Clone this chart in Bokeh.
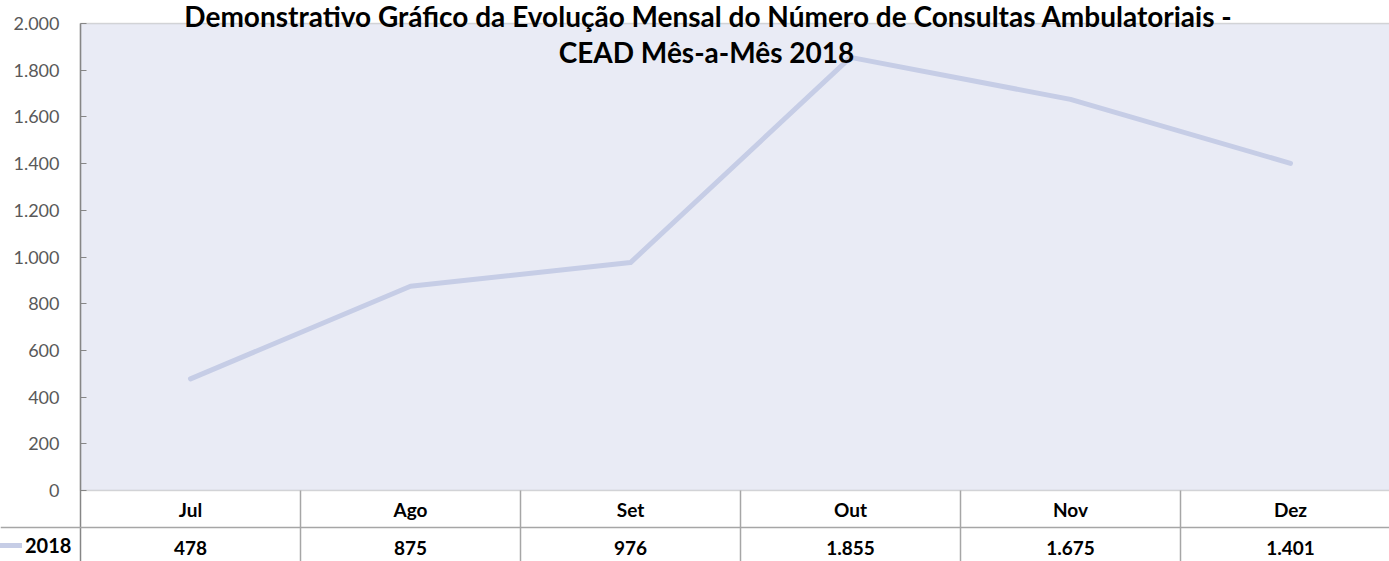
from bokeh.plotting import figure
from bokeh.models import (ColumnDataSource, Range1d, FixedTicker, Span,
                          BoxAnnotation, Label, Legend, LegendItem)
from bokeh.core.properties import value
from bokeh.embed import file_html
from bokeh.resources import INLINE

# ---- data ----
months = ["Jul", "Ago", "Set", "Out", "Nov", "Dez"]
consultas_2018 = [478, 875, 976, 1855, 1675, 1401]
series_name = "2018"
y_ticks = [0, 200, 400, 600, 800, 1000, 1200, 1400, 1600, 1800, 2000]
y_tick_labels = ["0", "200", "400", "600", "800", "1.000", "1.200", "1.400", "1.600", "1.800", "2.000"]
title_line1 = "Demonstrativo Gráfico da Evolução Mensal do Número de Consultas Ambulatoriais -"
title_line2 = "CEAD Mês-a-Mês 2018"

def fmt(v):
    return f"{v:,}".replace(",", ".")

value_labels = [fmt(v) for v in consultas_2018]
x_centers = [i + 0.5 for i in range(len(months))]          # category centres
x_bounds = [i + 1 for i in range(len(months))]             # column separators

# ---- layout constants (canvas pixels) ----
W, H = 1389, 561
AREA_L, AREA_T, AXIS_ZERO_PX = 80, 23, 490
COL_W = 220
Y_TOP = 2000
units_per_px = Y_TOP / (AXIS_ZERO_PX - AREA_T)

def ypx(py):
    return Y_TOP - (py - AREA_T) * units_per_px

def xpx(px):
    return (px - AREA_L) / COL_W

Y_BOTTOM = ypx(H)

FONT = "Lato"
PLOT_BG = "#e9ebf5"
LINE_C = "#c6cde6"
GRID_C = "#a6a6a6"
AXIS_C = "#868686"

p = figure(width=W, height=H, x_range=Range1d(xpx(0), xpx(W)),
           y_range=Range1d(ypx(H), ypx(0)), output_backend="svg",
           toolbar_location=None, x_axis_location=None, min_border=0)
p.background_fill_color = "white"
p.border_fill_color = "white"
p.outline_line_color = None
p.xgrid.visible = False
p.ygrid.visible = False

# plotting area (background + border)
p.add_layout(BoxAnnotation(left=0, right=len(months), bottom=0, top=Y_TOP,
                           fill_color=PLOT_BG, fill_alpha=1, line_color=AXIS_C,
                           line_width=1.5, level="underlay"))

yaxis = p.yaxis[0]
yaxis.fixed_location = 0
yaxis.bounds = (Y_BOTTOM, Y_TOP)
yaxis.ticker = FixedTicker(ticks=y_ticks)
yaxis.major_label_overrides = dict(zip(y_ticks, y_tick_labels))
yaxis.major_label_text_font = FONT
yaxis.major_label_text_font_size = "18px"
yaxis.major_label_text_color = "#595959"
yaxis.major_label_standoff = 21
yaxis.axis_line_color = AXIS_C
yaxis.axis_line_width = 1.5
yaxis.major_tick_in = 6
yaxis.major_tick_out = 0
yaxis.major_tick_line_color = AXIS_C
yaxis.minor_tick_line_color = None

src = ColumnDataSource(dict(x=x_centers, month=months, value=consultas_2018,
                            label=value_labels))

# data line
line_r = p.line(x="x", y="value", source=src, line_color=LINE_C,
                line_width=5, line_cap="round", line_join="round")

# data table below the chart
p.add_layout(Span(location=ypx(527), dimension="width", line_color=GRID_C, line_width=1.5))
p.segment(x0=x_bounds, y0=0, x1=x_bounds, y1=Y_BOTTOM,
          line_color=GRID_C, line_width=1.5)

p.text(x="x", y=ypx(509), text="month", source=src, text_align="center",
       text_baseline="middle", text_font=value(FONT), text_font_style="bold",
       text_font_size="19px", text_color="black")
p.text(x="x", y=ypx(547), text="label", source=src, text_align="center",
       text_baseline="middle", text_font=value(FONT), text_font_style="bold",
       text_font_size="19px", text_color="black")

# legend key as the table's row header
legend = Legend(items=[LegendItem(label=series_name, renderers=[line_r])],
                location=(0, 4), padding=0, margin=0, spacing=0,
                glyph_width=22, glyph_height=20, label_height=20,
                label_standoff=3, background_fill_alpha=0, border_line_alpha=0,
                label_text_font=FONT, label_text_font_style="bold",
                label_text_font_size="20px", label_text_color="black")
p.add_layout(legend, "center")

# title
p.add_layout(Label(x=xpx(708), y=ypx(15), text=title_line1, text_align="center",
                   text_baseline="middle", text_font=FONT, text_font_style="bold",
                   text_font_size="28px", text_color="black"))
p.add_layout(Label(x=xpx(706), y=ypx(51), text=title_line2, text_align="center",
                   text_baseline="middle", text_font=FONT, text_font_style="bold",
                   text_font_size="28px", text_color="black"))

open("out.html", "w").write(file_html(p, INLINE))
